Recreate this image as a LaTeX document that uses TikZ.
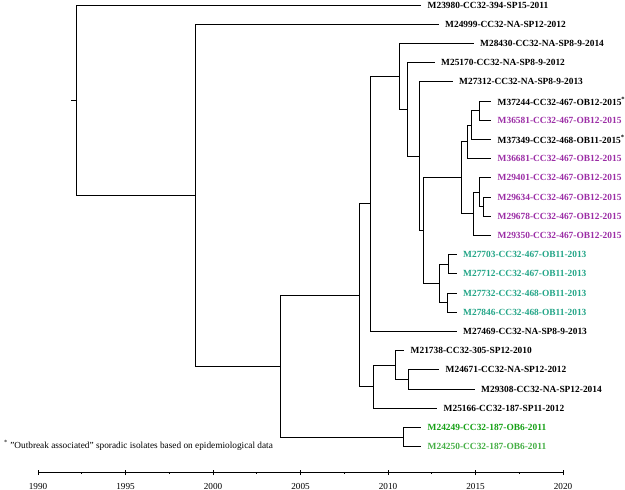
\documentclass[tikz,border=0pt]{standalone}
\usepackage{fontspec}
\setmainfont{Liberation Serif}
\definecolor{purp}{RGB}{155,45,165}
\definecolor{tealc}{RGB}{35,165,135}
\definecolor{grn1}{RGB}{20,160,20}
\definecolor{grn2}{RGB}{70,175,70}
\begin{document}
\begin{tikzpicture}[x=1pt,y=-1pt,
  branch/.style={line width=1pt,line cap=rect},
  lab/.style={anchor=west,inner sep=0pt,font=\bfseries\fontsize{9.4}{10}\selectfont},
  yearlab/.style={inner sep=0pt,font=\fontsize{9.2}{10}\selectfont},
  notelab/.style={anchor=west,inner sep=0pt,font=\fontsize{9.3}{10}\selectfont}]
\useasboundingbox (0,0) rectangle (625,490);
% leaves
\foreach \i/\x/\y/\c/\t in {
 1/420.5/5/black/{M23980-CC32-394-SP15-2011},
 2/438/24.2/black/{M24999-CC32-NA-SP12-2012},
 3/473/43.4/black/{M28430-CC32-NA-SP8-9-2014},
 4/434/62.6/black/{M25170-CC32-NA-SP8-9-2012},
 5/452/81.8/black/{M27312-CC32-NA-SP8-9-2013},
 6/490.5/101/black/{M37244-CC32-467-OB12-2015\textsuperscript{*}},
 7/490.5/120.2/purp/{M36581-CC32-467-OB12-2015},
 8/490.5/139.4/black/{M37349-CC32-468-OB11-2015\textsuperscript{*}},
 9/490.5/158.6/purp/{M36681-CC32-467-OB12-2015},
 10/490.5/177.8/purp/{M29401-CC32-467-OB12-2015},
 11/490.5/197/purp/{M29634-CC32-467-OB12-2015},
 12/490.5/216.2/purp/{M29678-CC32-467-OB12-2015},
 13/490.5/235.4/purp/{M29350-CC32-467-OB12-2015},
 14/456/254.6/tealc/{M27703-CC32-467-OB11-2013},
 15/456/273.8/tealc/{M27712-CC32-467-OB11-2013},
 16/456/293/tealc/{M27732-CC32-468-OB11-2013},
 17/456/312.2/tealc/{M27846-CC32-468-OB11-2013},
 18/456/331.4/black/{M27469-CC32-NA-SP8-9-2013},
 19/403.5/350.6/black/{M21738-CC32-305-SP12-2010},
 20/438.5/369.8/black/{M24671-CC32-NA-SP12-2012},
 21/474/389/black/{M29308-CC32-NA-SP12-2014},
 22/436.5/408.2/black/{M25166-CC32-187-SP11-2012},
 23/420.5/427.4/grn1/{M24249-CC32-187-OB6-2011},
 24/420.5/446.6/grn2/{M24250-CC32-187-OB6-2011}}
{
  \coordinate (t\i) at (\x,\y);
  \node[lab,text=\c] (l\i) at (\x+7,\y) {\t};
}
% internal nodes
\coordinate (A) at (479,110.6);
\coordinate (B) at (471,125);
\coordinate (C) at (467,141.8);
\coordinate (D) at (483,206.6);
\coordinate (E) at (479,192.2);
\coordinate (F) at (473,213.8);
\coordinate (G) at (461,177.8);
\coordinate (H) at (448,264.2);
\coordinate (I) at (447,302.6);
\coordinate (J) at (439,283.4);
\coordinate (K) at (423,230.6);
\coordinate (L) at (419,156.2);
\coordinate (M) at (407,109.4);
\coordinate (N) at (399,76.4);
\coordinate (O) at (370,203.9);
\coordinate (P) at (408,379.4);
\coordinate (Q) at (395,365);
\coordinate (R) at (373,386.6);
\coordinate (S) at (359,295.25);
\coordinate (T) at (403,437);
\coordinate (U) at (280,366.1);
\coordinate (V) at (195,195.15);
\coordinate (W) at (76,100.1);
\coordinate (rootstub) at (71,100.1);
% branches
\foreach \p/\a/\b in {A/t6/t7, B/A/t8, C/B/t9, D/t11/t12, E/t10/D, F/E/t13,
  G/C/F, H/t14/t15, I/t16/t17, J/H/I, K/G/J, L/t5/K, M/t4/L, N/t3/M,
  O/N/t18, P/t20/t21, Q/t19/P, R/Q/t22, S/O/R, T/t23/t24, U/S/T,
  V/t2/U, W/t1/V}
{
  \draw[branch] (\p) |- (\a);
  \draw[branch] (\p) |- (\b);
}
\draw[branch] (rootstub) -- (W);
% footnote
\node[notelab] (note) at (4,445) {\textsuperscript{*} "Outbreak associated" sporadic isolates based on epidemiological data};
% axis
\coordinate (ax0) at (38,472);
\coordinate (ax1) at (563,472);
\draw[branch] (ax0) -- (ax1);
\foreach \k/\yr in {0/1990,1/1995,2/2000,3/2005,4/2010,5/2015,6/2020}
{
  \coordinate (tk\k) at (38+87.5*\k,472);
  \draw[line width=1pt] ([yshift=-3]tk\k) -- ([yshift=2]tk\k);
  \node[yearlab] (y\k) at (38+87.5*\k,486) {\yr};
}
\foreach \k in {0,...,5}
{
  \coordinate (mk\k) at (38+87.5*\k+43.75,472);
  \draw[line width=0.6pt] (mk\k) -- ([yshift=-2]mk\k);
}
\end{tikzpicture}
\end{document}
